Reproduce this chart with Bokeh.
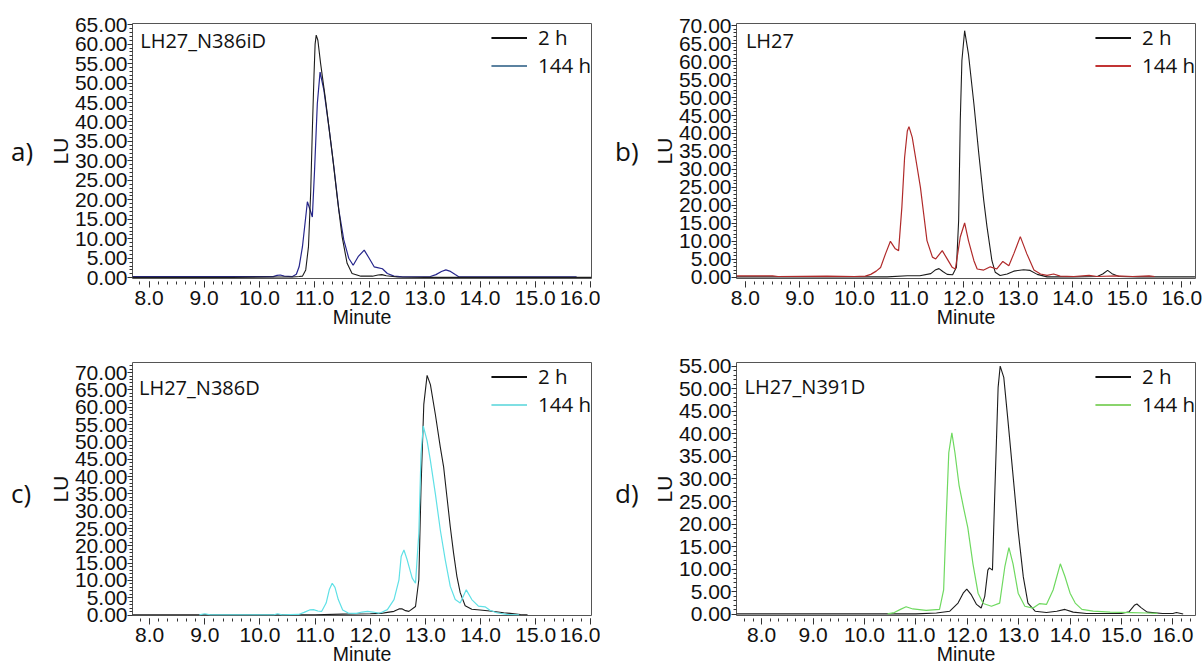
from bokeh.plotting import figure
from bokeh.models import Range1d, SingleIntervalTicker, PrintfTickFormatter, Legend, LegendItem, Label, Div
from bokeh.layouts import column, row
from bokeh.embed import file_html
from bokeh.resources import INLINE

# ---------------- data ----------------
X_LABEL = "Minute"
Y_LABEL = "LU"
SERIES_NAMES = ["2 h", "144 h"]
PANEL_TAGS = ["a)", "b)", "c)", "d)"]
SAMPLE_NAMES = ["LH27_N386iD", "LH27", "LH27_N386D", "LH27_N391D"]

A_2H = [(7.70, 0.1), (8.5, 0.1), (9.5, 0.1), (10.3, 0.2), (10.6, 0.2), (10.72, 0.3), (10.78, 0.4),
        (10.84, 2.0), (10.89, 8.0), (10.93, 22.0), (10.96, 38.0), (10.99, 52.0), (11.01, 60.0),
        (11.03, 62.3), (11.06, 61.0), (11.11, 55.0), (11.20, 45.6), (11.32, 31.9), (11.41, 20.8),
        (11.50, 10.5), (11.59, 3.7), (11.68, 1.1), (11.84, 0.4), (12.05, 0.4), (12.15, 0.7),
        (12.22, 0.8), (12.3, 0.5), (12.5, 0.2), (13.0, 0.1), (14.0, 0.1), (15.0, 0.1), (16.02, 0.1)]
A_144H = [(7.70, 0.3), (8.5, 0.3), (9.5, 0.3), (10.25, 0.3), (10.32, 0.6), (10.38, 0.7), (10.45, 0.4),
          (10.6, 0.3), (10.67, 0.9), (10.72, 2.8), (10.78, 7.9), (10.84, 15.6), (10.87, 19.5),
          (10.92, 17.4), (10.96, 15.6), (11.00, 27.6), (11.05, 44.7), (11.10, 52.8), (11.17, 48.1),
          (11.26, 38.7), (11.35, 28.5), (11.44, 17.4), (11.53, 9.7), (11.62, 5.0), (11.70, 3.2),
          (11.79, 5.4), (11.90, 7.1), (11.99, 5.0), (12.08, 2.8), (12.14, 2.6), (12.23, 2.3),
          (12.32, 1.1), (12.44, 0.4), (12.6, 0.2), (13.1, 0.3), (13.2, 0.8), (13.3, 1.6), (13.38, 2.0),
          (13.45, 1.7), (13.55, 0.8), (13.62, 0.2), (14.5, 0.2), (15.75, 0.2)]

B_2H = [(7.84, 0.1), (9.0, 0.1), (10.0, 0.1), (10.6, 0.1), (10.97, 0.4), (11.2, 0.4), (11.4, 1.0),
        (11.48, 2.0), (11.55, 2.4), (11.62, 1.6), (11.70, 0.8), (11.80, 0.7), (11.87, 2.8),
        (11.91, 15.7), (11.94, 43.6), (11.97, 60.3), (12.02, 68.6), (12.09, 62.1), (12.19, 48.2),
        (12.28, 34.3), (12.37, 21.4), (12.43, 14.0), (12.52, 4.6), (12.58, 1.4), (12.67, 0.5),
        (12.80, 0.9), (12.92, 1.7), (13.10, 2.1), (13.22, 1.9), (13.35, 0.8), (13.53, 0.1),
        (14.0, 0.1), (14.45, 0.2), (14.55, 0.9), (14.64, 1.9), (14.72, 1.0), (14.85, 0.2),
        (15.2, 0.1), (16.24, 0.1)]
B_144H = [(7.84, 0.4), (8.5, 0.4), (8.6, 0.2), (9.5, 0.3), (10.0, 0.2), (10.2, 0.3), (10.3, 0.8),
          (10.4, 1.7), (10.48, 2.7), (10.57, 6.5), (10.66, 10.0), (10.75, 7.9), (10.81, 7.4),
          (10.87, 19.5), (10.92, 33.3), (10.97, 40.7), (11.00, 41.9), (11.06, 38.9), (11.15, 30.6),
          (11.21, 25.0), (11.27, 17.6), (11.33, 10.2), (11.43, 5.6), (11.49, 5.1), (11.61, 7.4),
          (11.70, 5.1), (11.79, 2.8), (11.85, 2.3), (11.94, 11.2), (12.02, 15.1), (12.09, 10.2),
          (12.19, 4.6), (12.25, 2.3), (12.37, 2.0), (12.49, 2.9), (12.61, 2.3), (12.72, 4.4),
          (12.83, 3.2), (12.92, 6.5), (13.04, 11.3), (13.16, 6.5), (13.29, 2.0), (13.41, 0.9),
          (13.53, 0.5), (13.65, 0.9), (13.77, 0.3), (14.02, 0.2), (14.3, 0.5), (14.45, 0.2),
          (14.8, 0.4), (15.1, 0.2), (15.4, 0.4), (15.5, 0.2)]

C_2H = [(7.69, 0.1), (9.0, 0.1), (10.0, 0.1), (11.0, 0.1), (11.5, 0.3), (12.0, 0.4), (12.19, 0.5),
        (12.31, 0.8), (12.43, 1.1), (12.52, 1.8), (12.58, 1.8), (12.64, 1.3), (12.70, 1.1),
        (12.82, 2.5), (12.88, 10.2), (12.92, 36.9), (12.97, 60.8), (13.03, 69.2), (13.09, 66.5),
        (13.18, 57.9), (13.27, 48.4), (13.33, 42.7), (13.39, 34.1), (13.45, 25.5), (13.51, 17.9),
        (13.57, 11.2), (13.63, 6.5), (13.72, 2.7), (13.84, 1.7), (13.99, 1.5), (14.17, 1.2),
        (14.42, 0.7), (14.72, 0.2), (14.85, 0.1)]
C_144H = [(8.9, 0.1), (9.0, 0.4), (9.1, 0.1), (10.25, 0.1), (10.32, 0.4), (10.4, 0.1), (10.7, 0.2),
          (10.8, 0.8), (10.9, 1.5), (10.97, 1.6), (11.05, 1.2), (11.12, 1.1), (11.2, 3.5),
          (11.26, 7.5), (11.31, 9.2), (11.36, 8.0), (11.42, 4.5), (11.5, 1.5), (11.6, 0.6),
          (11.75, 0.5), (11.85, 0.9), (11.95, 1.1), (12.05, 0.9), (12.15, 0.6), (12.19, 0.7),
          (12.31, 1.6), (12.43, 4.5), (12.52, 10.2), (12.56, 16.9), (12.61, 18.8), (12.67, 15.9),
          (12.76, 10.7), (12.82, 9.2), (12.88, 23.6), (12.92, 46.5), (12.96, 54.6), (13.03, 50.3),
          (13.09, 44.6), (13.18, 35.0), (13.27, 24.5), (13.36, 15.9), (13.45, 8.3), (13.54, 4.5),
          (13.63, 3.5), (13.74, 7.3), (13.84, 4.5), (13.96, 2.6), (14.08, 2.4), (14.17, 1.4),
          (14.29, 0.7), (14.47, 0.2), (14.7, 0.1)]

D_2H = [(7.51, 0.1), (9.0, 0.1), (10.0, 0.1), (11.0, 0.1), (11.40, 0.3), (11.66, 0.7), (11.82, 2.5),
        (11.92, 4.7), (11.99, 5.6), (12.08, 4.3), (12.18, 2.2), (12.27, 1.4), (12.34, 4.0),
        (12.40, 9.8), (12.43, 10.3), (12.49, 9.8), (12.53, 25.0), (12.57, 39.4), (12.60, 50.3),
        (12.64, 55.0), (12.71, 52.5), (12.79, 43.1), (12.89, 30.8), (12.99, 18.5), (13.09, 8.3),
        (13.18, 2.5), (13.32, 0.7), (13.54, 0.4), (13.74, 0.7), (13.90, 1.1), (14.06, 0.5),
        (14.32, 0.2), (15.0, 0.2), (15.15, 0.6), (15.25, 2.0), (15.30, 2.3), (15.38, 1.5),
        (15.5, 0.5), (15.8, 0.2), (16.0, 0.2), (16.07, 0.4), (16.2, 0.1)]
D_144H = [(10.45, 0.1), (10.58, 0.4), (10.7, 1.1), (10.81, 1.7), (10.94, 1.2), (11.20, 0.9),
          (11.46, 1.1), (11.54, 5.4), (11.59, 21.3), (11.64, 35.8), (11.70, 40.2), (11.76, 35.8),
          (11.84, 28.6), (11.93, 23.5), (12.01, 19.2), (12.11, 11.2), (12.21, 4.7), (12.31, 2.4),
          (12.47, 1.8), (12.63, 2.5), (12.73, 10.5), (12.81, 14.8), (12.89, 11.2), (12.99, 4.7),
          (13.12, 1.8), (13.28, 1.4), (13.41, 2.4), (13.54, 2.2), (13.67, 5.4), (13.81, 11.2),
          (13.90, 8.4), (14.00, 4.7), (14.10, 2.5), (14.23, 1.1), (14.45, 0.7), (14.78, 0.5),
          (15.2, 0.4), (15.5, 0.3), (15.7, 0.2)]

SERIES = [(A_2H, A_144H), (B_2H, B_144H), (C_2H, C_144H), (D_2H, D_144H)]

# ---------------- styling ----------------
X_RANGES = [(7.70, 16.02), (7.84, 16.25), (7.69, 16.01), (7.51, 16.44)]
Y_RANGES = [(-0.2, 65.3), (-0.35, 70.6), (-0.1, 72.9), (-0.25, 55.8)]
CURVE_144 = ["#26268c", "#b02a2a", "#5fe0e6", "#6fd960"]
LEGEND_144 = ["#5b82a0", "#c23434", "#7fdfe3", "#8ad46c"]
BLACK = "#1c1c1c"
TICK_FONT = "Liberation Sans"
TEXT_FONT = "Open Sans"

# per panel: tag-div width, figure width, height, borders (left, right, top, bottom)
GEOM = [
    (40, 560, 338, 92, 9, 23, 60),
    (40, 562, 338, 96, 7, 23, 60),
    (40, 560, 332, 92, 9, 24, 55),
    (40, 562, 332, 96, 7, 24, 55),
]
# tag text: left padding and top padding in its div (px)
TAG_PAD = [(11, 135), (15, 135), (11, 139), (15, 139)]
# sample name offset relative to the frame's top-left corner (px)
NAME_OFF = [(7.7, 17.3), (9.4, 17.0), (6.5, 24.7), (8.0, 24.0)]


def make_tag(i):
    dw, _, h = GEOM[i][:3]
    pl, pt = TAG_PAD[i]
    html = ('<div style="padding-left:%dpx;padding-top:%dpx;font-family:\'Open Sans\';'
            'font-size:26px;line-height:32px;color:#111111;">%s</div>' % (pl, pt, PANEL_TAGS[i]))
    return Div(text=html, width=dw, height=h, margin=0)


def make_panel(i):
    _, w, h, bl, br, bt, bb = GEOM[i]
    x0, x1 = X_RANGES[i]
    y0, y1 = Y_RANGES[i]
    fw = w - bl - br
    fh = h - bt - bb
    p = figure(width=w, height=h, output_backend="svg", toolbar_location=None,
               x_range=Range1d(x0, x1), y_range=Range1d(y0, y1),
               min_border_left=bl, min_border_right=br, min_border_top=bt, min_border_bottom=bb)
    p.xgrid.visible = False
    p.ygrid.visible = False
    p.outline_line_color = "#555555"
    p.outline_line_width = 1
    p.background_fill_color = "white"
    p.border_fill_color = "white"

    s2, s144 = SERIES[i]
    r2 = p.line([t[0] for t in s2], [t[1] for t in s2], line_color=BLACK, line_width=1.1)
    r144 = p.line([t[0] for t in s144], [t[1] for t in s144], line_color=CURVE_144[i], line_width=1.2)
    if i == 0:
        r144.level = "underlay"
    nan = float("nan")
    l2 = p.line(x=[nan], y=[nan], line_color="#111111", line_width=2)
    l144 = p.line(x=[nan], y=[nan], line_color=LEGEND_144[i], line_width=2)

    xa = p.xaxis[0]
    xa.ticker = SingleIntervalTicker(interval=1, num_minor_ticks=6)
    xa.formatter = PrintfTickFormatter(format="%.1f")
    xa.axis_line_color = None
    xa.major_tick_in = -3
    xa.major_tick_out = 9
    xa.minor_tick_in = -3
    xa.minor_tick_out = 6
    xa.major_tick_line_color = "#333333"
    xa.minor_tick_line_color = "#333333"
    xa.major_label_text_font = TICK_FONT
    xa.major_label_text_font_size = "21px"
    xa.major_label_text_color = "#111111"
    xa.major_label_standoff = 3
    xa.axis_label = X_LABEL
    xa.axis_label_text_font = TICK_FONT
    xa.axis_label_text_font_size = "19.5px"
    xa.axis_label_text_font_style = "normal"
    xa.axis_label_text_color = "#111111"
    xa.axis_label_standoff = -2

    ya = p.yaxis[0]
    ya.ticker = SingleIntervalTicker(interval=5, num_minor_ticks=5)
    ya.formatter = PrintfTickFormatter(format="%.2f")
    ya.axis_line_color = None
    ya.major_tick_in = 0
    ya.major_tick_out = 5
    ya.minor_tick_in = 0
    ya.minor_tick_out = 3
    ya.major_tick_line_color = "#333333"
    ya.minor_tick_line_color = "#333333"
    ya.major_label_text_font = TICK_FONT
    ya.major_label_text_font_size = "21px"
    ya.major_label_text_color = "#111111"
    ya.major_label_standoff = 0
    ya.axis_label = Y_LABEL
    ya.axis_label_text_font = TICK_FONT
    ya.axis_label_text_font_size = "21px"
    ya.axis_label_text_font_style = "normal"
    ya.axis_label_text_color = "#111111"
    ya.axis_label_standoff = 0

    sx = (x1 - x0) / fw
    sy = (y1 - y0) / fh
    ndx, ndy = NAME_OFF[i]
    p.add_layout(Label(x=x0 + ndx * sx, y=y1 - ndy * sy, text=SAMPLE_NAMES[i],
                       text_font=TEXT_FONT, text_font_size="20px", text_color="#111111",
                       text_align="left", text_baseline="middle"))

    leg = Legend(items=[LegendItem(label=SERIES_NAMES[0], renderers=[l2]),
                        LegendItem(label=SERIES_NAMES[1], renderers=[l144])],
                 location="top_right")
    leg.margin = 0
    leg.padding = 3
    leg.spacing = 0
    leg.border_line_color = None
    leg.background_fill_alpha = 0
    leg.glyph_width = 36
    leg.glyph_height = 25
    leg.label_height = 25
    leg.label_standoff = 11
    leg.label_text_font = TEXT_FONT
    leg.label_text_font_size = "20.5px"
    leg.label_text_color = "#111111"
    p.add_layout(leg)
    return p


items = []
for i in range(4):
    items.append(make_tag(i))
    items.append(make_panel(i))
layout = column(row(items[0], items[1], items[2], items[3]),
                row(items[4], items[5], items[6], items[7]))

open("out.html", "w").write(file_html(layout, INLINE))
